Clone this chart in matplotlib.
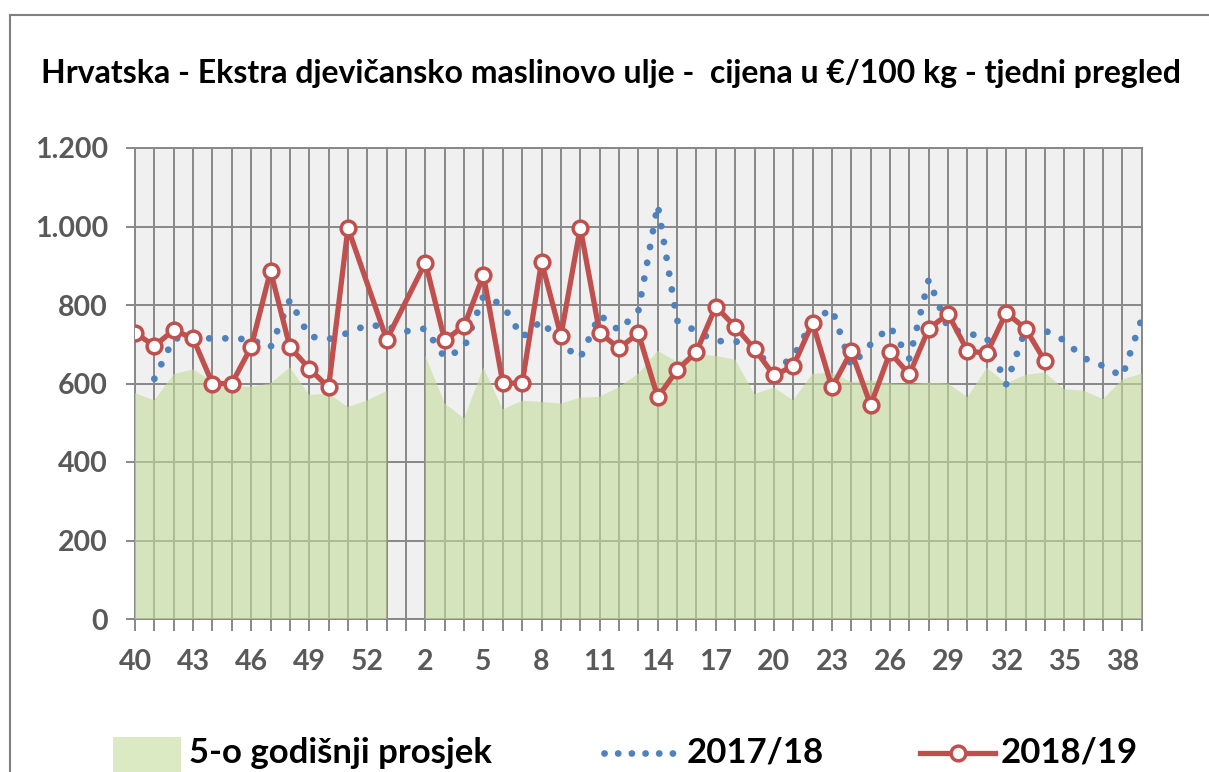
import matplotlib
matplotlib.use("Agg")
import matplotlib.pyplot as plt
from matplotlib.lines import Line2D
from matplotlib.patches import Rectangle
from matplotlib.ticker import FuncFormatter
import numpy as np

# tjedni (40..53, 1..39)
weeks = list(range(40, 54)) + list(range(1, 40))

# 5-o godisnji prosjek (tjedan 1 nema podatka)
avg5 = [576, 557, 624, 636, 605, 592, 592, 600, 641, 571, 574, 540, 557, 581,
        None, 670, 549, 511, 641, 534, 556, 553, 549, 564, 566, 591, 625, 683,
        655, 675, 670, 661, 573, 590, 557, 625, 627, 604, 608, 600, 598, 602,
        600, 565, 640, 600, 622, 628, 585, 582, 560, 610, 625]

s1718 = [None, 612, 715, 715, 715, 715, 712, 692, 813, 720, 713, 729, 749, 745,
         733, 740, 666, 690, 823, 800, 718, 760, 700, 665, 775, 735, 785, 1055,
         760, 733, 708, 708, 690, 632, 668, 760, 790, 645, 700, 745, 663, 865,
         740, 728, 716, 598, 738, 735, 710, 665, 645, 618, 765]

s1819 = [729, 696, 736, 715, 600, 600, 693, 887, 693, 638, 590, 996, None, 712,
         None, 908, 710, 747, 876, 601, 601, 910, 722, 997, 729, 690, 728, 565,
         634, 681, 796, 745, 688, 621, 644, 755, 590, 682, 545, 679, 623, 740,
         777, 683, 677, 780, 740, 657, None, None, None, None, None]

legend_labels = ["5-o godišnji prosjek", "2017/18", "2018/19"]
title = "Hrvatska - Ekstra djevičansko maslinovo ulje -  cijena u €/100 kg - tjedni pregled"

plt.rcParams["font.family"] = ["Lato", "DejaVu Sans"]

W, H = 1209, 772
fig = plt.figure(figsize=(W / 100, H / 100), dpi=100)
ax = fig.add_axes([135 / W, 1 - 619 / H, (1141.7 - 135) / W, (619 - 148) / H])

x = np.arange(len(weeks))
a = np.array([np.nan if v is None else v for v in avg5], dtype=float)
b = np.array([np.nan if v is None else v for v in s1718], dtype=float)
c = np.array([np.nan if v is None else v for v in s1819], dtype=float)

grid_col = "#888888"
area_col = "#C6DC9B"
blue = "#4F81BD"
red = "#C0504D"

ax.set_facecolor("#F0F0F0")
ax.fill_between(x, 0, a, color=area_col, alpha=0.6, linewidth=0, zorder=3)

mb = ~np.isnan(b)
ax.plot(x[mb], b[mb], color=blue, lw=4.9, linestyle=(0, (0.01, 2.35)),
        dash_capstyle="round", zorder=4)
mc = ~np.isnan(c)
ax.plot(x[mc], c[mc], color=red, lw=3.8, marker="o", markersize=10.6,
        markerfacecolor="white", markeredgecolor=red, markeredgewidth=2.5,
        zorder=5)

ax.set_xlim(0, len(weeks) - 1)
ax.set_ylim(0, 1200)
ax.set_yticks(range(0, 1201, 200))
ax.yaxis.set_major_formatter(FuncFormatter(lambda v, p: f"{int(v):,}".replace(",", ".")))
ax.set_xticks(x)
ax.set_xticklabels([str(w) if i % 3 == 0 else "" for i, w in enumerate(weeks)])

ax.grid(True, color=grid_col, lw=1.4, zorder=1)
ax.set_axisbelow(True)
for s in ax.spines.values():
    s.set_color(grid_col)
    s.set_linewidth(1.4)

ax.tick_params(axis="y", length=6.5, width=1.4, color=grid_col, pad=13,
               labelsize=20.5, labelcolor="#595959")
ax.tick_params(axis="x", length=8.6, width=1.4, color=grid_col, pad=13,
               labelsize=20.5, labelcolor="#595959")
for t in ax.get_xticklabels() + ax.get_yticklabels():
    t.set_fontweight("bold")

fig.text(611 / W, 1 - 74 / H, title, ha="center", va="center",
         fontsize=23, fontweight="bold", color="black")

# vanjski okvir grafikona
fig.add_artist(Line2D([10 / W, 10 / W], [0, 1 - 15 / H], transform=fig.transFigure,
                      color="#808080", lw=1.5))
fig.add_artist(Line2D([10 / W, 1], [1 - 15 / H, 1 - 15 / H], transform=fig.transFigure,
                      color="#808080", lw=1.5))

# legenda
ly = 1 - 753 / H
fig.add_artist(Rectangle((113 / W, 1 - 772 / H), 68 / W, 35 / H,
                         transform=fig.transFigure, color=area_col, alpha=0.6, lw=0))
fig.text(189 / W, ly, legend_labels[0], ha="left", va="center",
         fontsize=25, fontweight="bold")
fig.add_artist(Line2D([604 / W, 680 / W], [ly, ly], transform=fig.transFigure,
                      color=blue, lw=4.9, linestyle=(0, (0.01, 2.0)),
                      dash_capstyle="round"))
fig.text(687 / W, ly, legend_labels[1], ha="left", va="center",
         fontsize=25, fontweight="bold")
fig.add_artist(Line2D([920 / W, 995 / W], [ly, ly], transform=fig.transFigure,
                      color=red, lw=3.8))
fig.add_artist(Line2D([958 / W], [ly], transform=fig.transFigure, color=red,
                      marker="o", markersize=10.6, markerfacecolor="white",
                      markeredgecolor=red, markeredgewidth=2.5))
fig.text(1001 / W, ly, legend_labels[2], ha="left", va="center",
         fontsize=25, fontweight="bold")

fig.savefig("out.png", dpi=100)
